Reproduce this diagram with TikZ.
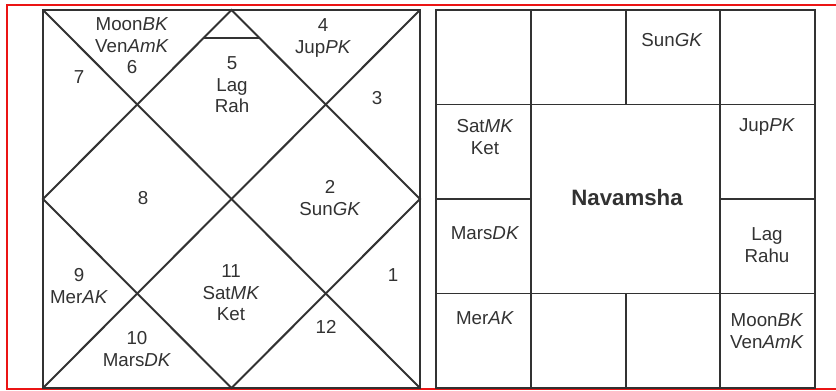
\documentclass[tikz,border=0pt]{standalone}
\usepackage{fontspec}
\setmainfont{Liberation Sans}
\usepackage{xcolor}
\definecolor{Ink}{RGB}{50,50,50}
\definecolor{Frame}{RGB}{235,20,20}
\usepackage{tikz}
\tikzstyle{Line}=[draw=Ink,line width=1.7pt]
\tikzstyle{Border}=[draw=Frame,line width=1.7pt]
\tikzstyle{House}=[align=center,text=Ink,inner sep=0pt,
font=\fontsize{16}{18.4}\selectfont]
\tikzstyle{Title}=[text=Ink,inner sep=0pt,
font=\fontsize{19}{22}\selectfont\bfseries]
\newcommand{\Kar}[1]{\textit{#1}}

\begin{document}
\begin{tikzpicture}[x=0.03cm,y=-0.03cm]
        \useasboundingbox (0,0) rectangle (836,391);
        \draw[Border](837,5)--(7,5)--(7,389)--(837,389);
        % rasi chart
        \coordinate(nw)at(43,10);
        \coordinate(ne)at(420,10);
        \coordinate(sw)at(43,388);
        \coordinate(se)at(420,388);
        \coordinate(n)at(231.5,10);
        \coordinate(e)at(420,199);
        \coordinate(s)at(231.5,388);
        \coordinate(w)at(43,199);
        \coordinate(t1)at(203.5,38);
        \coordinate(t2)at(259.5,38);
        \draw[Line](nw)rectangle(se);
        \draw[Line](nw)--(se);
        \draw[Line](ne)--(sw);
        \draw[Line](n)--(e)--(s)--(w)--cycle;
        \draw[Line](t1)--(t2);
        \node[House](h1)at(393,275){1};
        \node[House](h2)at(330,198){2\\Sun\Kar{GK}};
        \node[House](h3)at(377,98){3};
        \node[House](h4)at(323,38){4\\Jup\Kar{PK}};
        \node[House](h5)at(232,85){5\\Lag\\Rah};
        \node[House](h6)at(132,46){Moon\Kar{BK}\\Ven\Kar{AmK}\\6};
        \node[House](h7)at(79,77){7};
        \node[House](h8)at(143,198){8};
        \node[House](h9)at(79,286){9\\Mer\Kar{AK}};
        \node[House](h10)at(137,349){10\\Mars\Kar{DK}};
        \node[House](h11)at(231,293){11\\Sat\Kar{MK}\\Ket};
        \node[House](h12)at(326,327){12};
        % navamsha chart
        \coordinate(NW)at(436,10);
        \coordinate(SE)at(815,388);
        \draw[Line](NW)rectangle(SE);
        \draw[Line](436,104.5)--(815,104.5);
        \draw[Line](436,293.5)--(815,293.5);
        \draw[Line](531,10)--(531,388);
        \draw[Line](720,10)--(720,388);
        \draw[Line](626,10)--(626,104.5);
        \draw[Line](626,293.5)--(626,388);
        \draw[Line](436,199)--(531,199);
        \draw[Line](720,199)--(815,199);
        \node[House](c1)at(672,40){Sun\Kar{GK}};
        \node[House](c2)at(485,137){Sat\Kar{MK}\\Ket};
        \node[House](c3)at(767,127){Jup\Kar{PK}};
        \node[House](c4)at(485,233){Mars\Kar{DK}};
        \node[House](c5)at(767,245){Lag\\Rahu};
        \node[House](c6)at(485,318){Mer\Kar{AK}};
        \node[House](c7)at(767,331){Moon\Kar{BK}\\Ven\Kar{AmK}};
        \node[Title](nav)at(627,198){Navamsha};
    \end{tikzpicture}
\end{document}
